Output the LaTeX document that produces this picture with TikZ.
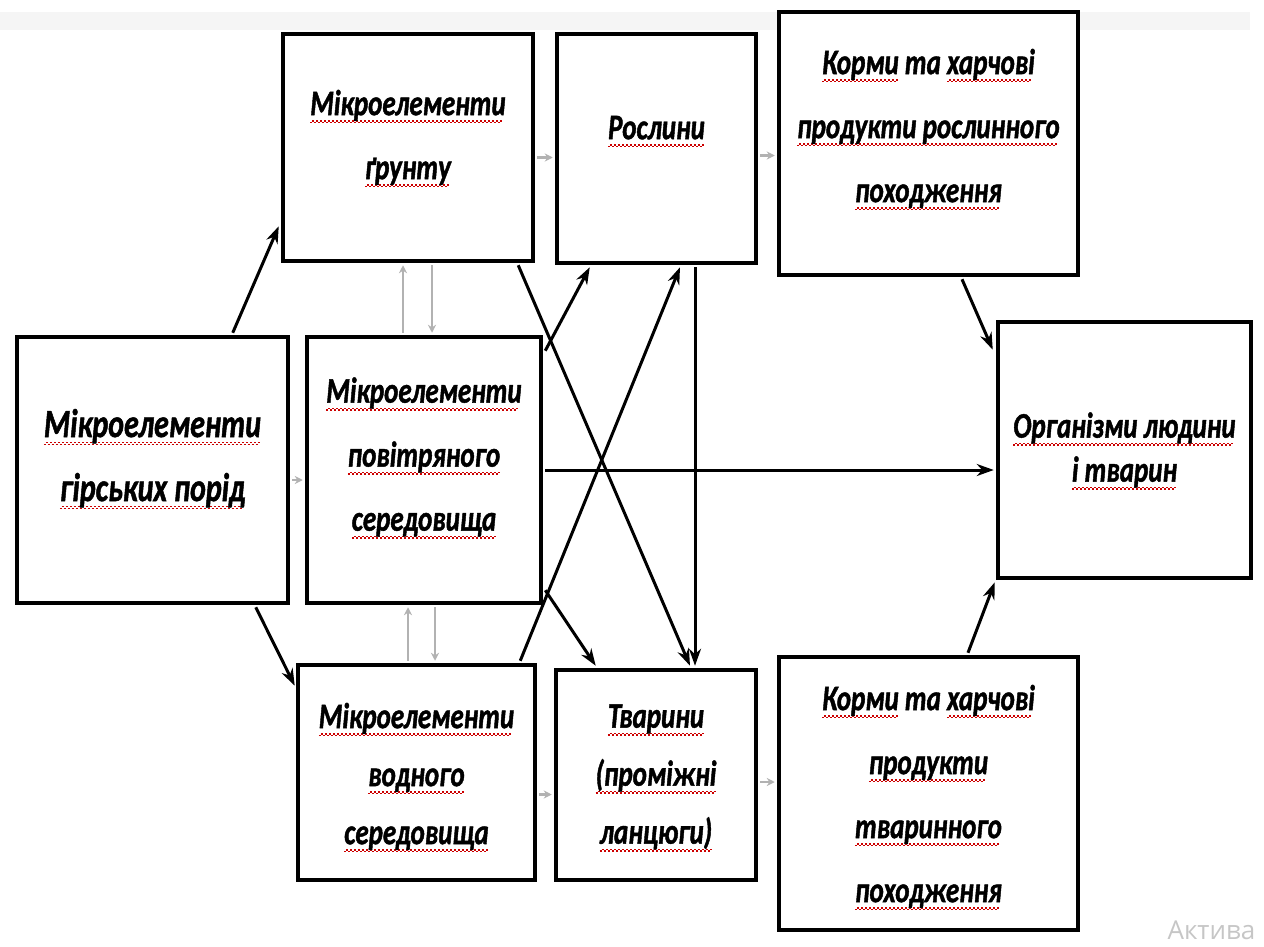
\documentclass[tikz,border=0pt]{standalone}
\usepackage{fontspec}
\setmainfont{Carlito}[FakeStretch=0.75, BoldItalicFeatures={FakeBold=1.2}]
\newfontfamily\wmfont{Open Sans}
\usetikzlibrary{arrows.meta,calc}
\newsavebox\rwbox
\newcommand\rw[1]{\sbox\rwbox{#1}\leavevmode\rlap{\hbox to \wd\rwbox{\color{red!80!black}\leaders\hbox to 4pt{\rule[-8pt]{2pt}{1.5pt}\rule[-6.4pt]{2pt}{1.5pt}}\hfill}}\usebox\rwbox}
\begin{document}
\begin{tikzpicture}[x=1pt,y=-1pt,
  box/.style={draw=black, line width=4.5pt, inner sep=0pt, fill=white},
  txt/.style={align=center, inner sep=0pt, font=\fontsize{36}{64}\selectfont\bfseries\itshape},
  arr/.style={line width=3pt, -{Stealth[length=17pt,width=12pt]}},
  garr/.style={draw=gray!60, line width=2.8pt, -{Stealth[length=8pt,width=8pt]}}]
\useasboundingbox (0,0) rectangle (1264,947);
\fill[gray!8] (0,12) rectangle (1250,30);

\node[box, minimum width=250pt, minimum height=227pt] (soil) at (408,147.5) {};
\node[box, minimum width=199pt, minimum height=229pt] (plants) at (656.5,148.5) {};
\node[box, minimum width=299pt, minimum height=263pt] (kormyR) at (928.5,143.5) {};
\node[box, minimum width=271pt, minimum height=266pt] (rocks) at (152.5,470) {};
\node[box, minimum width=234pt, minimum height=266pt] (air) at (424,470) {};
\node[box, minimum width=253pt, minimum height=256pt] (org) at (1124.5,450) {};
\node[box, minimum width=237pt, minimum height=215pt] (water) at (416.5,772.5) {};
\node[box, minimum width=200pt, minimum height=210pt] (animals) at (656,775) {};
\node[box, minimum width=299pt, minimum height=273pt] (kormyA) at (928.5,793.5) {};

\node[txt] (soilT) at ($(soil)+(0,-9)$) {\rw{Мікроелементи}\\\rw{ґрунту}};
\node[txt] (plantsT) at ($(plants)+(0,-17)$) {\rw{Рослини}};
\node[txt] (kormyRT) at ($(kormyR)+(0,-14)$) {\rw{Корми} та \rw{харчові}\\\rw{продукти рослинного}\\\rw{походження}};
\node[txt, font=\fontsize{40}{64}\selectfont\bfseries\itshape] (rocksT) at ($(rocks)+(0,-11)$) {\rw{Мікроелементи}\\\rw{гірських порід}};
\node[txt] (airT) at ($(air)+(0,-12)$) {\rw{Мікроелементи}\\\rw{повітряного}\\\rw{середовища}};
\node[txt, font=\fontsize{36}{44}\selectfont\bfseries\itshape] (orgT) at ($(org)+(0,1)$) {\rw{Організми людини}\\\rw{і тварин}};
\node[txt, font=\fontsize{36}{58}\selectfont\bfseries\itshape] (waterT) at ($(water)+(0,5)$) {\rw{Мікроелементи}\\\rw{водного}\\\rw{середовища}};
\node[txt, font=\fontsize{36}{58}\selectfont\bfseries\itshape] (animalsT) at ($(animals)+(0,3)$) {\rw{Тварини}\\\rw{(проміжні}\\\rw{ланцюги)}};
\node[txt] (kormyAT) at ($(kormyA)+(0,4)$) {\rw{Корми} та \rw{харчові}\\\rw{продукти}\\\rw{тваринного}\\\rw{походження}};

% black arrows
\draw[arr] ($(rocks.north west)+(218,-2)$) -- ($(soil.south west)+(-2,-37)$);
\draw[arr] ($(rocks.south west)+(241,2)$) -- ($(water.north west)+(-1,23)$);
\draw[arr] ($(air.north east)+(2,16)$) -- ($(plants.south west)+(35,2)$);
\draw[arr] ($(water.north east)+(-17,-2)$) -- ($(plants.south)+(23.5,2)$);
\draw[arr] ($(soil.south east)+(-17,2)$) -- ($(animals.north)+(34,-2)$);
\draw[arr] ($(air.south east)+(2,-15)$) -- ($(animals.north west)+(42,-2)$);
\draw[arr] ($(plants.south)+(38.5,2)$) -- ($(animals.north)+(39,-2)$);
\draw[arr] ($(air.east)+(2,0)$) -- ($(org.west)+(-2,20)$);
\draw[arr] ($(kormyR.south)+(33.5,2)$) -- ($(org.north west)+(-3,30)$);
\draw[arr] ($(kormyA.north)+(39.5,-2)$) -- ($(org.south west)+(-1,2)$);

% gray arrows
\draw[garr] ($(rocks.east)+(2,10)$) -- ($(air.west)+(-2,10)$);
\draw[garr] ($(soil.east)+(2,10)$) -- ($(plants.west)+(-2,9)$);
\draw[garr] ($(plants.east)+(2,7)$) -- ($(kormyR.west)+(-2,12)$);
\draw[garr] ($(water.east)+(2,22)$) -- ($(animals.west)+(-2,19.5)$);
\draw[garr] ($(animals.east)+(2,7)$) -- ($(kormyA.west)+(-2,-11.5)$);
\draw[garr] ($(air.north)+(-21,-2)$) -- ($(soil.south)+(-5,2)$);
\draw[garr] ($(soil.south)+(24,2)$) -- ($(air.north)+(8,-2)$);
\draw[garr] ($(water.north)+(-8.5,-2)$) -- ($(air.south)+(-16,2)$);
\draw[garr] ($(air.south)+(11,2)$) -- ($(water.north)+(18.5,-2)$);

\node[anchor=base west, text=gray!45, font=\wmfont\fontsize{26}{26}\selectfont] (wm) at (1164,939) {Актива};
\end{tikzpicture}
\end{document}
